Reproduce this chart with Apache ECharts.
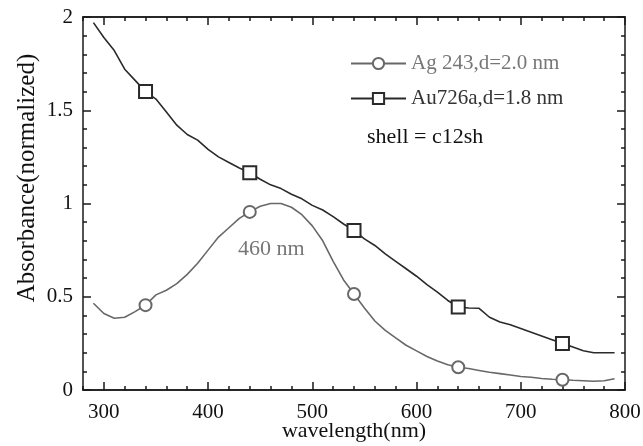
<!DOCTYPE html>
<html>
<head>
<meta charset="utf-8">
<script src="https://cdn.jsdelivr.net/npm/echarts@6/dist/echarts.min.js"></script>
<style>
html,body{margin:0;padding:0;background:#fff;}
#chart{width:643px;height:446px;}
</style>
</head>
<body>
<div id="chart"></div>
<script>
// ---- data ----
var wavelengths = [290,300,310,320,330,340,350,360,370,380,390,400,410,420,430,440,450,460,470,480,490,500,510,520,530,540,550,560,570,580,590,600,610,620,630,640,650,660,670,680,690,700,710,720,730,740,750,760,770,780,790];
var agValues = [0.465,0.41,0.385,0.39,0.42,0.455,0.51,0.535,0.57,0.62,0.68,0.75,0.82,0.87,0.92,0.955,0.985,1.0,1.0,0.98,0.94,0.88,0.80,0.69,0.59,0.515,0.44,0.37,0.32,0.28,0.24,0.21,0.18,0.155,0.135,0.122,0.115,0.105,0.095,0.088,0.08,0.072,0.068,0.062,0.058,0.055,0.052,0.05,0.047,0.05,0.06];
var auValues = [1.97,1.89,1.82,1.72,1.66,1.60,1.56,1.49,1.42,1.37,1.34,1.29,1.25,1.22,1.19,1.165,1.13,1.10,1.08,1.05,1.025,0.99,0.965,0.93,0.89,0.855,0.81,0.775,0.73,0.69,0.65,0.61,0.565,0.525,0.48,0.445,0.44,0.438,0.39,0.365,0.35,0.33,0.31,0.29,0.27,0.25,0.23,0.21,0.20,0.20,0.20];
var markerWavelengths = [340,440,540,640,740];
var seriesNames = ['Ag 243,d=2.0 nm','Au726a,d=1.8 nm'];
var xMajorTicks = [300,400,500,600,700,800];
var xTitle = 'wavelength(nm)';
var yTitle = 'Absorbance(normalized)';
var annotationPeak = '460 nm';
var annotationShell = 'shell = c12sh';

function buildData(vals){
  return wavelengths.map(function(w,i){
    var item = {value:[w, vals[i]]};
    if (markerWavelengths.indexOf(w) < 0) item.symbol = 'none';
    return item;
  });
}

var FONT = 'Liberation Serif';
var AXC = '#1a1a1a';
var AG = '#686868';
var AU = '#2a2a2a';

function xAxisDef(pos, major, labels){
  var a = {type:'value', min:280, max:800, gridIndex:0, position:pos, splitLine:{show:false}};
  a.axisLine = {show:true, onZero:false, lineStyle:{color:AXC, width:1.5}};
  if (major){
    a.axisTick = {show:true, inside:true, length:8, customValues:xMajorTicks, lineStyle:{color:AXC,width:1.5}};
    a.axisLabel = {show:labels, customValues:xMajorTicks, fontFamily:FONT, fontSize:21, color:'#111', margin:12};
  } else {
    a.interval = 20;
    a.axisTick = {show:true, inside:true, length:4, lineStyle:{color:AXC,width:1.5}};
    a.axisLabel = {show:false};
  }
  return a;
}
function yAxisDef(pos, labels){
  return {type:'value', min:0, max:2, interval:0.5, gridIndex:0, position:pos, splitLine:{show:false},
    axisLine:{show:true, onZero:false, lineStyle:{color:AXC,width:1.5}},
    axisTick:{show:true, inside:true, length:8, lineStyle:{color:AXC,width:1.5}},
    minorTick:{show:true, splitNumber:5, length:4, lineStyle:{color:AXC,width:1.5}},
    axisLabel:{show:labels, fontFamily:FONT, fontSize:21, color:'#111', margin:10}
  };
}

var series = [
  {name:seriesNames[0], type:'line', xAxisIndex:0, yAxisIndex:0, data:buildData(agValues),
    symbol:'emptyCircle', symbolSize:12, showSymbol:true, z:3,
    lineStyle:{color:AG, width:1.6}, itemStyle:{color:AG, borderColor:AG, borderWidth:1.6}, color:AG},
  {name:seriesNames[1], type:'line', xAxisIndex:0, yAxisIndex:0, data:buildData(auValues),
    symbol:'emptyRect', symbolSize:13, showSymbol:true, z:3,
    lineStyle:{color:AU, width:1.6}, itemStyle:{color:AU, borderColor:AU, borderWidth:1.8}, color:AU}
];
[[1,0],[2,1],[3,1]].forEach(function(p){
  series.push({type:'line', xAxisIndex:p[0], yAxisIndex:p[1], data:[], silent:true});
});

var chart = echarts.init(document.getElementById('chart'), null, {renderer:'canvas'});
chart.setOption({
  animation:false,
  backgroundColor:'#fff',
  grid:{left:83, right:18, top:17, bottom:56, outerBoundsMode:'none'},
  xAxis:[xAxisDef('bottom',true,true), xAxisDef('bottom',false,false), xAxisDef('top',true,false), xAxisDef('top',false,false)],
  yAxis:[yAxisDef('left',true), yAxisDef('right',false)],
  legend:{
    orient:'vertical', left:345, top:48, itemWidth:55, itemHeight:14, itemGap:14,
    data:[
      {name:seriesNames[0], textStyle:{color:'#777'}},
      {name:seriesNames[1], textStyle:{color:'#333'}}
    ],
    textStyle:{fontFamily:FONT, fontSize:21}
  },
  series:series,
  graphic:[
    {type:'text', x:27, y:178, rotation:Math.PI/2,
      style:{text:yTitle, font:'25px "Liberation Serif"', fill:'#111', align:'center', verticalAlign:'middle'}},
    {type:'text', x:354, y:431,
      style:{text:xTitle, font:'22px "Liberation Serif"', fill:'#111', align:'center', verticalAlign:'middle'}},
    {type:'text', left:367, top:126, style:{text:annotationShell, font:'22px "Liberation Serif"', fill:'#111'}},
    {type:'text', left:238, top:238, style:{text:annotationPeak, font:'22px "Liberation Serif"', fill:'#777'}}
  ]
});
</script>
</body>
</html>
